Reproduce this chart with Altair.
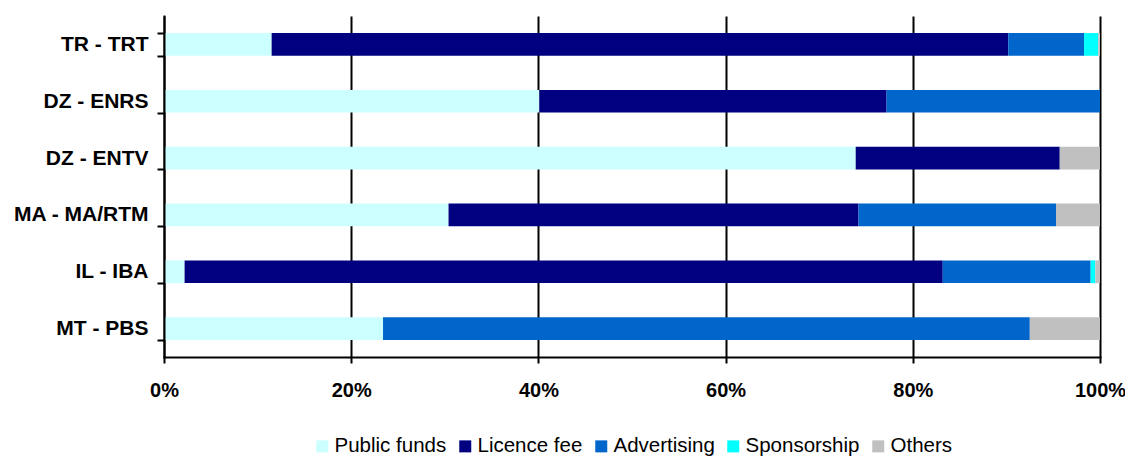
import altair as alt
import pandas as pd

categories = ["TR - TRT", "DZ - ENRS", "DZ - ENTV", "MA - MA/RTM", "IL - IBA", "MT - PBS"]
sources = ["Public funds", "Licence fee", "Advertising", "Sponsorship", "Others"]
colors = ["#CCFFFF", "#000080", "#0066CC", "#00FFFF", "#C0C0C0"]

public_funds = [11.5, 40.1, 73.9, 30.4, 2.2, 23.4]
licence_fee = [78.7, 37.1, 21.8, 43.8, 81.0, 0.0]
advertising = [8.1, 22.8, 0.0, 21.1, 15.8, 69.1]
sponsorship = [1.5, 0.0, 0.0, 0.0, 0.5, 0.0]
others = [0.2, 0.0, 4.3, 4.7, 0.5, 7.5]

series = [public_funds, licence_fee, advertising, sponsorship, others]
rows = []
for si, (name, vals) in enumerate(zip(sources, series)):
    for ci, cat in enumerate(categories):
        rows.append({"broadcaster": cat, "source": name, "share": vals[ci], "order": si})
df = pd.DataFrame(rows)

FONT = "Liberation Sans"

chart = alt.Chart(df).mark_bar().encode(
    y=alt.Y("broadcaster:N", sort=categories, title=None,
            scale=alt.Scale(paddingInner=0.6, paddingOuter=0.3),
            axis=alt.Axis(labelFont=FONT, labelFontSize=21, labelFontWeight="bold",
                          labelColor="black", tickColor="black", tickWidth=2, tickSize=7,
                          labelPadding=9, domainColor="black", domainWidth=2,
                          tickBand="extent", zindex=1, grid=False)),
    x=alt.X("share:Q", stack="normalize", title=None,
            scale=alt.Scale(domain=[0, 1]),
            axis=alt.Axis(format="%", values=[0, 0.2, 0.4, 0.6, 0.8, 1.0],
                          labelFont=FONT, labelFontSize=20, labelFontWeight="bold",
                          labelColor="black", tickColor="black", tickWidth=2, tickSize=6,
                          labelPadding=17, domainColor="black", domainWidth=2,
                          grid=True, gridColor="black", gridWidth=2, gridOpacity=1,
                          labelFlush=False)),
    color=alt.Color("source:N", scale=alt.Scale(domain=sources, range=colors),
                    legend=alt.Legend(title=None, orient="none", direction="horizontal",
                                      legendX=148, legendY=420,
                                      labelFont=FONT, labelFontSize=20.5, labelColor="black",
                                      symbolType="square", symbolSize=144,
                                      symbolStrokeWidth=0, labelOffset=2,
                                      columnPadding=8, labelLimit=300)),
    order=alt.Order("order:Q", sort="ascending"),
).properties(
    width=936, height=341,
    autosize=alt.AutoSizeParams(type="none"),
    padding={"left": 156, "top": 8, "right": 25, "bottom": 100},
).configure_view(stroke=None).configure_axis(
    domainCap="square"
)

chart.save("out.html", embed_options={"renderer": "svg", "actions": False})
